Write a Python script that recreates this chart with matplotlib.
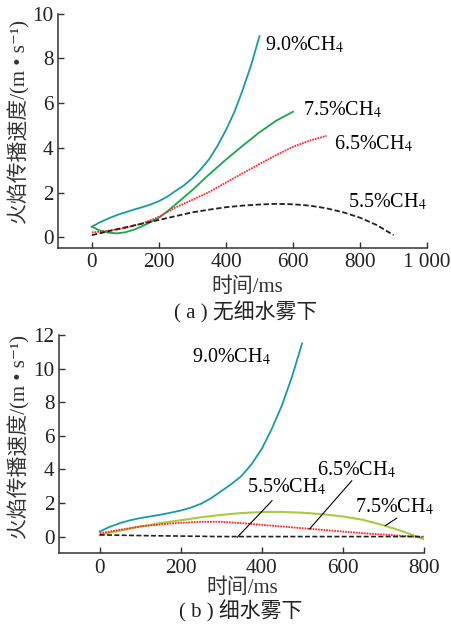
import matplotlib
matplotlib.use("Agg")
import matplotlib.pyplot as plt

# fonts: serif for latin, CJK fallback
FAM = ["Liberation Serif", "Noto Sans CJK SC", "DejaVu Sans"]
plt.rcParams["font.family"] = FAM
plt.rcParams["mathtext.fontset"] = "stix"
FS = 14.5
TFS = 15.2

# ---- (a) without water mist ----
t_a90 = [0, 25, 50, 75, 100, 125, 150, 175, 200, 225, 250, 275, 300, 325, 350, 375, 400, 425, 450, 475, 500]
v_a90 = [0.48, 0.68, 0.85, 1.0, 1.12, 1.24, 1.35, 1.47, 1.62, 1.82, 2.08, 2.33, 2.65, 3.05, 3.5, 4.1, 4.8, 5.6, 6.6, 7.7, 9.0]
t_a75 = [0, 25, 50, 75, 100, 125, 150, 175, 200, 225, 250, 300, 350, 400, 450, 500, 550, 600]
v_a75 = [0.48, 0.3, 0.21, 0.18, 0.23, 0.34, 0.5, 0.68, 0.88, 1.16, 1.48, 2.12, 2.82, 3.48, 4.1, 4.7, 5.22, 5.62]
t_a65 = [0, 50, 100, 150, 200, 250, 300, 350, 400, 450, 500, 550, 600, 650, 700]
v_a65 = [0.22, 0.3, 0.42, 0.62, 0.92, 1.34, 1.68, 2.03, 2.45, 2.87, 3.28, 3.68, 4.05, 4.33, 4.54]
t_a55 = [0, 100, 200, 300, 350, 400, 450, 500, 550, 600, 650, 700, 750, 800, 850, 900]
v_a55 = [0.1, 0.45, 0.78, 1.12, 1.24, 1.35, 1.42, 1.47, 1.5, 1.48, 1.42, 1.3, 1.12, 0.88, 0.55, 0.1]

# ---- (b) with water mist ----
t_b90 = [0, 25, 50, 75, 100, 125, 150, 175, 200, 225, 250, 275, 300, 325, 350, 375, 400, 425, 450, 475, 500]
v_b90 = [0.3, 0.58, 0.8, 0.97, 1.1, 1.2, 1.3, 1.42, 1.55, 1.72, 1.95, 2.28, 2.7, 3.12, 3.6, 4.3, 5.2, 6.4, 7.8, 9.5, 11.5]
t_b75 = [0, 50, 100, 150, 200, 250, 300, 350, 400, 450, 500, 550, 600, 650, 700, 750, 800]
v_b75 = [0.1, 0.35, 0.6, 0.8, 0.97, 1.15, 1.29, 1.4, 1.46, 1.47, 1.42, 1.33, 1.2, 1.0, 0.68, 0.3, -0.15]
t_b65 = [0, 50, 100, 150, 200, 250, 300, 350, 400, 450, 500, 550, 600, 650, 700, 750, 800]
v_b65 = [0.2, 0.4, 0.6, 0.72, 0.82, 0.88, 0.88, 0.8, 0.7, 0.6, 0.5, 0.4, 0.3, 0.2, 0.12, 0.04, -0.04]
t_b55 = [0, 100, 200, 300, 400, 500, 600, 700, 800]
v_b55 = [0.1, 0.06, 0.03, 0.0, 0.0, 0.0, 0.0, 0.0, 0.0]

labels = ["9.0%CH$_4$", "7.5%CH$_4$", "6.5%CH$_4$", "5.5%CH$_4$"]
xt_a = [0, 200, 400, 600, 800, 1000]
xt_a_lab = ["0", "200", "400", "600", "800", "1 000"]
yt_a = [0, 2, 4, 6, 8, 10]
xt_b = [0, 200, 400, 600, 800]
yt_b = [0, 2, 4, 6, 8, 10, 12]

TEAL = "#1a9aa6"
GREEN = "#17a84b"
RED = "#ff2a2a"
BLACK = "#222222"
YGREEN = "#a8cc3c"
LW = 1.3
DOT = (0, (1, 0.5))
DASH = (0, (3, 1.4))


def style_axes(ax):
    for s in ["top", "right"]:
        ax.spines[s].set_visible(False)
    for s in ["left", "bottom"]:
        ax.spines[s].set_linewidth(1.1)
        ax.spines[s].set_color("#333333")
    ax.tick_params(direction="in", length=4, width=1.0, labelsize=TFS,
                   colors="#333333", labelcolor="#222222")
    ax.tick_params(axis="x", pad=4)
    ax.tick_params(axis="y", pad=3.5)


fig = plt.figure(figsize=(4.52, 6.26), dpi=100)

# top panel
ax1 = fig.add_axes([0.129, 0.604, 0.816, 0.374])
ax1.plot(t_a90, v_a90, color=TEAL, lw=LW)
ax1.plot(t_a75, v_a75, color=GREEN, lw=LW)
ax1.plot(t_a65, v_a65, color=RED, lw=LW, ls=DOT)
ax1.plot(t_a55, v_a55, color=BLACK, lw=LW, ls=DASH)
ax1.set_xlim(-100, 1000)
ax1.set_ylim(-0.47, 10)
ax1.set_xticks(xt_a)
ax1.set_xticklabels(xt_a_lab)
ax1.set_yticks(yt_a)
style_axes(ax1)
ax1.text(516, 8.6, labels[0], fontsize=FS, va="center")
ax1.text(629, 5.7, labels[1], fontsize=FS, va="center")
ax1.text(723, 4.2, labels[2], fontsize=FS, va="center")
ax1.text(763, 1.6, labels[3], fontsize=FS, va="center")

# bottom panel
ax2 = fig.add_axes([0.131, 0.116, 0.806, 0.349])
ax2.plot(t_b90, v_b90, color=TEAL, lw=LW)
ax2.plot(t_b75, v_b75, color=YGREEN, lw=LW + 0.2)
ax2.plot(t_b65, v_b65, color=RED, lw=LW, ls=DOT)
ax2.plot(t_b55, v_b55, color=BLACK, lw=LW - 0.1, ls=DASH)
ax2.set_xlim(-100, 800)
ax2.set_ylim(-1, 12)
ax2.set_xticks(xt_b)
ax2.set_yticks(yt_b)
style_axes(ax2)
ax2.text(229, 10.7, labels[0], fontsize=FS, va="center")
ax2.text(363, 2.96, labels[3], fontsize=FS, va="center")
ax2.text(537, 3.97, labels[2], fontsize=FS, va="center")
ax2.text(631, 1.75, labels[1], fontsize=FS, va="center")
arrow = dict(arrowstyle="-", color="black", lw=0.8, shrinkA=0, shrinkB=0)
ax2.annotate("", xy=(340, -0.04), xytext=(426, 2.14), arrowprops=arrow)
ax2.annotate("", xy=(518, 0.44), xytext=(623, 3.33), arrowprops=arrow)
ax2.annotate("", xy=(705, 0.64), xytext=(734, 1.1), arrowprops=arrow)

# labels and captions
ylab = "火焰传播速度/(m • s⁻¹)"
fig.text(0.044, 0.805, ylab, rotation=90, ha="center", va="center",
         fontsize=FS + 0.5, color="#333333")
fig.text(0.044, 0.302, ylab, rotation=90, ha="center", va="center",
         fontsize=FS + 0.5, color="#333333")
fig.text(0.546, 0.5415, "时间/ms", ha="center", va="center", fontsize=FS + 0.5, color="#333333")
fig.text(0.544, 0.5016, "( a ) 无细水雾下", ha="center", va="center", fontsize=FS + 0.5, color="#222222")
fig.text(0.535, 0.0602, "时间/ms", ha="center", va="center", fontsize=FS + 0.5, color="#333333")
fig.text(0.532, 0.0229, "( b ) 细水雾下", ha="center", va="center", fontsize=FS + 0.5, color="#222222")

fig.savefig("out.png", dpi=100)
